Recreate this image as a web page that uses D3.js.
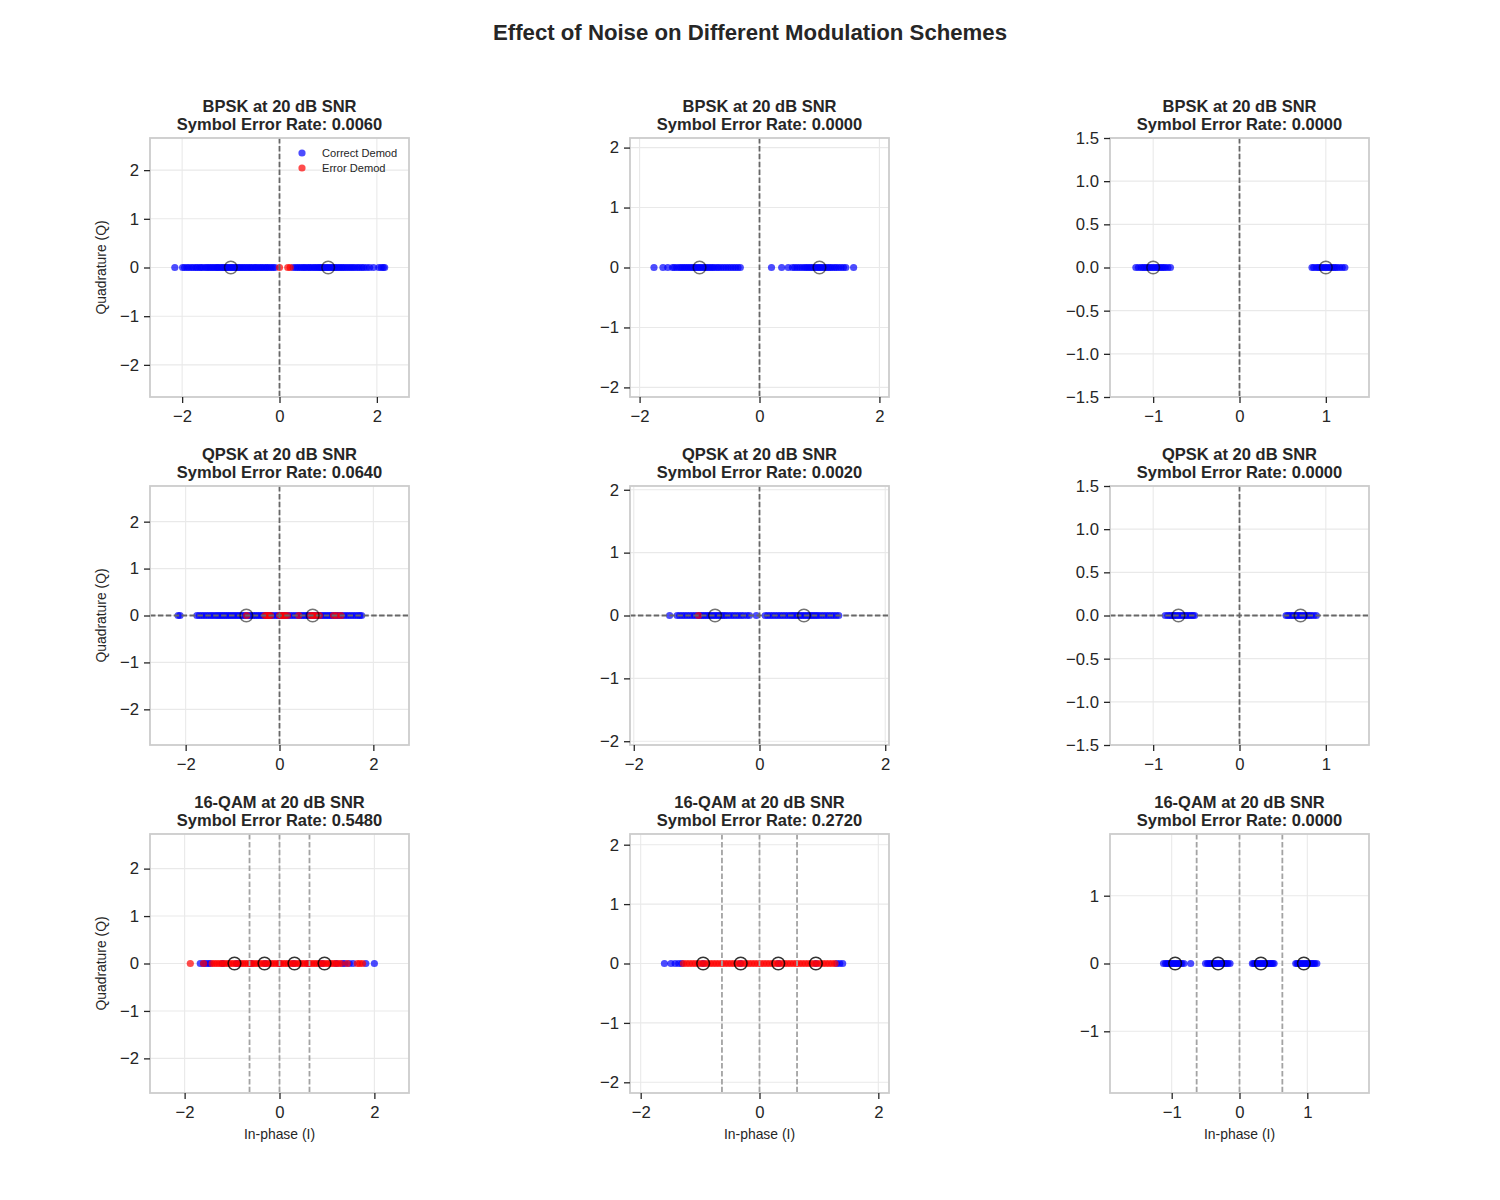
<!DOCTYPE html>
<html>
<head>
<meta charset="utf-8">
<script src="https://cdn.jsdelivr.net/npm/d3@7"></script>
<style>
  body { margin: 0; background: #fff; }
  svg { font-family: "Liberation Sans", Arial, sans-serif; }
</style>
</head>
<body>
<div id="chart"></div>
<script>
// ---- data ----
const schemes = ["BPSK", "QPSK", "16-QAM"];
const snrDb = 20;
const errorRates = [
    [0.0060, 0.0000, 0.0000],
    [0.0640, 0.0020, 0.0000],
    [0.5480, 0.2720, 0.0000]
];
// half width of each (square) axes, in I/Q units
const axisLimits = [
    [2.66, 2.16, 1.5],
    [2.76, 2.06, 1.5],
    [2.73, 2.18, 1.91]
];
const xTicksWide = [-2, 0, 2];
const yTicksWide = [-2, -1, 0, 1, 2];
const xTicksTight = [-1, 0, 1];
const yTicksTight = [-1.5, -1, -0.5, 0, 0.5, 1, 1.5];
const yTicksQam = [-1, 0, 1];

// ideal constellation (I values, Q = 0)
const bpskIdeal = [-1, 1];
const qpskIdeal = [-0.707, 0.707];
const qamIdeal = [-0.949, -0.316, 0.316, 0.949];

// decision boundaries
const bpskBounds = [0];
const qpskBounds = [0];
const qamBounds = [-0.632, 0, 0.632];

// received symbols, I values (all lie on Q = 0)
const bpskACorrect = [-2.15, -1.99, -1.95, -1.9, -1.86, -1.81, -1.77, -1.72, -1.69, -1.64, -1.61, -1.57, -1.52, -1.49,
    -1.45, -1.42, -1.38, -1.35, -1.31, -1.28, -1.26, -1.22, -1.19, -1.16, -1.13, -1.1, -1.08, -1.05, -1.02, -0.99,
    -0.97, -0.94, -0.91, -0.88, -0.85, -0.82, -0.79, -0.75, -0.72, -0.68, -0.65, -0.61, -0.58, -0.54, -0.5, -0.47,
    -0.43, -0.39, -0.36, -0.32, -0.28, -0.25, -0.21, -0.17, -0.13, -0.09,
    0.28, 0.33, 0.37, 0.41, 0.45, 0.49, 0.52, 0.56, 0.6, 0.63, 0.67, 0.71, 0.74, 0.78, 0.81, 0.84, 0.87, 0.9, 0.93,
    0.96, 0.99, 1.02, 1.05, 1.08, 1.11, 1.14, 1.17, 1.21, 1.24, 1.28, 1.31, 1.35, 1.39, 1.43, 1.47, 1.51, 1.55, 1.6,
    1.64, 1.69, 1.73, 1.79, 1.85, 1.93, 2.04, 2.09, 2.13, 2.16];
const bpskAError = [0.0, 0.17, 0.22];

const bpskBCorrect = [-1.76, -1.61, -1.53, -1.45, -1.42, -1.38, -1.34, -1.31, -1.28, -1.25, -1.22, -1.19, -1.16, -1.13,
    -1.1, -1.08, -1.05, -1.03, -1.0, -0.98, -0.95, -0.92, -0.9, -0.87, -0.84, -0.81, -0.78, -0.75, -0.71, -0.68,
    -0.64, -0.6, -0.56, -0.52, -0.48, -0.44, -0.4, -0.36, -0.32,
    0.2, 0.37, 0.48, 0.55, 0.59, 0.63, 0.67, 0.71, 0.75, 0.78, 0.81, 0.84, 0.87, 0.9, 0.93, 0.96, 0.98, 1.01, 1.03,
    1.06, 1.09, 1.12, 1.15, 1.18, 1.21, 1.25, 1.28, 1.32, 1.36, 1.4, 1.44, 1.57];
const bpskBError = [];

const bpskCCorrect = [-1.2, -1.17, -1.14, -1.12, -1.1, -1.08, -1.06, -1.04, -1.02, -1.0, -0.98, -0.96, -0.94, -0.92,
    -0.9, -0.88, -0.86, -0.83, -0.8,
    0.84, 0.86, 0.89, 0.91, 0.93, 0.95, 0.97, 0.99, 1.01, 1.03, 1.05, 1.07, 1.09, 1.11, 1.13, 1.16, 1.19, 1.22];
const bpskCError = [];

const qpskACorrect = [-2.16, -2.12, -1.76, -1.71, -1.66, -1.61, -1.56, -1.51, -1.46, -1.42, -1.37, -1.33, -1.29, -1.25,
    -1.21, -1.17, -1.13, -1.09, -1.05, -1.01, -0.97, -0.93, -0.89, -0.85, -0.81, -0.77, -0.73, -0.69, -0.65, -0.61,
    -0.57, -0.53, -0.49, -0.45, -0.41, -0.37, -0.33, -0.29, -0.25, -0.2, -0.16, -0.11, -0.06, -0.02, 0.03, 0.08,
    0.13, 0.18, 0.23, 0.28, 0.33, 0.38, 0.43, 0.47, 0.51, 0.55, 0.59, 0.63, 0.67, 0.71, 0.75, 0.79, 0.83, 0.87,
    0.91, 0.95, 0.99, 1.03, 1.07, 1.11, 1.15, 1.19, 1.23, 1.27, 1.32, 1.37, 1.42, 1.47, 1.52, 1.57, 1.62, 1.67,
    1.71, 1.75];
const qpskAError = [-0.7, -0.31, -0.27, -0.23, -0.19, 0.0, 0.04, 0.08, 0.12, 0.17, 0.41, 0.66, 0.7, 0.74, 0.8,
    0.85, 1.15, 1.22, 1.31];

const qpskBCorrect = [-1.43, -1.31, -1.27, -1.23, -1.19, -1.15, -1.11, -1.07, -1.03, -0.99, -0.95, -0.92, -0.89, -0.86,
    -0.83, -0.8, -0.77, -0.74, -0.71, -0.68, -0.65, -0.62, -0.59, -0.56, -0.53, -0.49, -0.45, -0.41, -0.37, -0.33,
    -0.29, -0.25, -0.2, -0.16, -0.05,
    0.09, 0.13, 0.17, 0.21, 0.25, 0.29, 0.33, 0.37, 0.41, 0.45, 0.49, 0.52, 0.55, 0.58, 0.61, 0.64, 0.67, 0.7,
    0.73, 0.76, 0.79, 0.82, 0.85, 0.88, 0.91, 0.94, 0.98, 1.02, 1.06, 1.1, 1.14, 1.18, 1.22, 1.26];
const qpskBError = [-0.97];

const qpskCCorrect = [-0.86, -0.83, -0.81, -0.79, -0.77, -0.76, -0.74, -0.72, -0.7, -0.68, -0.66, -0.64, -0.62, -0.6,
    -0.58, -0.56, -0.54, -0.52,
    0.54, 0.56, 0.58, 0.6, 0.62, 0.64, 0.66, 0.68, 0.69, 0.71, 0.73, 0.75, 0.77, 0.79, 0.81, 0.83, 0.86, 0.89];
const qpskCError = [];

const qamACorrect = [-1.67, -1.6, -1.55, -1.5, -1.46, -1.2, -0.9, -0.6, -0.3, 0.0, 0.3, 0.6, 0.9, 1.2, 1.33, 1.38,
    1.47, 1.55, 1.82, 2.0];
const qamAError = [-1.88, -1.6, -1.42, -1.37, -1.32, -1.27, -1.22, -1.17, -1.12, -1.07, -1.02, -0.97, -0.92, -0.87,
    -0.82, -0.77, -0.72, -0.67, -0.62, -0.57, -0.52, -0.47, -0.42, -0.37, -0.32, -0.27, -0.22, -0.17, -0.12, -0.07,
    -0.02, 0.03, 0.08, 0.13, 0.18, 0.23, 0.28, 0.33, 0.38, 0.43, 0.48, 0.53, 0.58, 0.63, 0.68, 0.73, 0.78, 0.83,
    0.88, 0.93, 0.98, 1.03, 1.08, 1.13, 1.18, 1.24, 1.29, 1.43, 1.64, 1.69, 1.75];

const qamBCorrect = [-1.6, -1.49, -1.42, -1.36, -1.31, -0.95, -0.32, 0.32, 0.95, 1.3, 1.35, 1.4];
const qamBError = [-1.28, -1.23, -1.18, -1.13, -1.08, -1.03, -0.98, -0.93, -0.88, -0.83, -0.78, -0.73, -0.68, -0.63,
    -0.58, -0.53, -0.48, -0.43, -0.38, -0.33, -0.28, -0.23, -0.18, -0.13, -0.08, -0.03, 0.02, 0.07, 0.12, 0.17,
    0.22, 0.27, 0.32, 0.37, 0.42, 0.47, 0.52, 0.57, 0.62, 0.67, 0.72, 0.77, 0.82, 0.87, 0.92, 0.97, 1.02, 1.07,
    1.12, 1.17, 1.22, 1.27];

const qamCCorrect = [-1.12, -1.09, -1.07, -1.05, -1.03, -1.01, -0.99, -0.97, -0.95, -0.93, -0.91, -0.89, -0.87, -0.85,
    -0.82, -0.72,
    -0.5, -0.47, -0.45, -0.43, -0.41, -0.39, -0.37, -0.35, -0.33, -0.31, -0.29, -0.27, -0.25, -0.23, -0.21, -0.19,
    -0.17, -0.14,
    0.19, 0.21, 0.23, 0.25, 0.27, 0.29, 0.31, 0.33, 0.35, 0.37, 0.39, 0.41, 0.43, 0.45, 0.47, 0.49, 0.51,
    0.83, 0.85, 0.87, 0.89, 0.91, 0.93, 0.95, 0.97, 0.99, 1.01, 1.03, 1.05, 1.07, 1.09, 1.11, 1.14];
const qamCError = [];

// ---- panel table ----
const panels = [
    {scheme: 0, col: 0, correct: bpskACorrect, error: bpskAError, ideal: bpskIdeal, vb: bpskBounds, hb: []},
    {scheme: 0, col: 1, correct: bpskBCorrect, error: bpskBError, ideal: bpskIdeal, vb: bpskBounds, hb: []},
    {scheme: 0, col: 2, correct: bpskCCorrect, error: bpskCError, ideal: bpskIdeal, vb: bpskBounds, hb: []},
    {scheme: 1, col: 0, correct: qpskACorrect, error: qpskAError, ideal: qpskIdeal, vb: qpskBounds, hb: qpskBounds},
    {scheme: 1, col: 1, correct: qpskBCorrect, error: qpskBError, ideal: qpskIdeal, vb: qpskBounds, hb: qpskBounds},
    {scheme: 1, col: 2, correct: qpskCCorrect, error: qpskCError, ideal: qpskIdeal, vb: qpskBounds, hb: qpskBounds},
    {scheme: 2, col: 0, correct: qamACorrect, error: qamAError, ideal: qamIdeal, vb: qamBounds, hb: []},
    {scheme: 2, col: 1, correct: qamBCorrect, error: qamBError, ideal: qamIdeal, vb: qamBounds, hb: []},
    {scheme: 2, col: 2, correct: qamCCorrect, error: qamCError, ideal: qamIdeal, vb: qamBounds, hb: []}
];

const width = 1500;
const height = 1200;
const size = 259;
const colX = [150, 630, 1110];
const rowY = [138, 486, 834];
const textColor = "#262626";
const dotR = 3.6;

const chart = () => {
    const svg = d3.create("svg")
        .attr("width", width)
        .attr("height", height)
        .attr("viewBox", [0, 0, width, height])
    ;

    svg.append("rect")
        .attr("width", width)
        .attr("height", height)
        .attr("fill", "#fff")
    ;

    svg.append("text")
        .attr("x", width / 2)
        .attr("y", 40)
        .attr("text-anchor", "middle")
        .attr("font-size", 22.2)
        .attr("font-weight", "bold")
        .attr("fill", textColor)
        .text("Effect of Noise on Different Modulation Schemes")
    ;

    panels.forEach(p => {
        const row = p.scheme;
        const lim = axisLimits[row][p.col];
        const tight = p.col === 2;
        const xTicks = tight ? xTicksTight : xTicksWide;
        const yTicks = tight ? (row === 2 ? yTicksQam : yTicksTight) : yTicksWide;

        const x = d3.scaleLinear().domain([-lim, lim]).range([0, size]);
        const y = d3.scaleLinear().domain([-lim, lim]).range([size, 0]);

        const g = svg.append("g")
            .attr("transform", `translate(${colX[p.col]},${rowY[row]})`)
        ;

        // grid
        g.append("g").selectAll("line")
            .data(xTicks)
            .join("line")
                .attr("x1", d => x(d)).attr("x2", d => x(d))
                .attr("y1", 0).attr("y2", size)
                .attr("stroke", "#e9e9e9")
                .attr("stroke-width", 1.1)
        ;
        g.append("g").selectAll("line")
            .data(yTicks)
            .join("line")
                .attr("y1", d => y(d)).attr("y2", d => y(d))
                .attr("x1", 0).attr("x2", size)
                .attr("stroke", "#e9e9e9")
                .attr("stroke-width", 1.1)
        ;

        // received symbols: correct first, errors on top
        g.append("g").selectAll("circle")
            .data(p.correct.map(v => ({i: v, q: 0})))
            .join("circle")
                .attr("cx", d => x(d.i))
                .attr("cy", d => y(d.q))
                .attr("r", dotR)
                .attr("fill", "blue")
                .attr("fill-opacity", 0.7)
        ;
        g.append("g").selectAll("circle")
            .data(p.error.map(v => ({i: v, q: 0})))
            .join("circle")
                .attr("cx", d => x(d.i))
                .attr("cy", d => y(d.q))
                .attr("r", dotR)
                .attr("fill", "red")
                .attr("fill-opacity", 0.7)
        ;

        // decision boundaries
        const boundColor = row === 2 ? "#a3a3a3" : "#676767";
        g.append("g").selectAll("line")
            .data(p.vb)
            .join("line")
                .attr("x1", d => x(d)).attr("x2", d => x(d))
                .attr("y1", 0).attr("y2", size)
                .attr("stroke", boundColor)
                .attr("stroke-width", 1.8)
                .attr("stroke-dasharray", "5.5,2.4")
        ;
        g.append("g").selectAll("line")
            .data(p.hb)
            .join("line")
                .attr("y1", d => y(d)).attr("y2", d => y(d))
                .attr("x1", 0).attr("x2", size)
                .attr("stroke", boundColor)
                .attr("stroke-width", 1.8)
                .attr("stroke-dasharray", "5.5,2.4")
        ;

        // ideal constellation points
        g.append("g").selectAll("circle")
            .data(p.ideal.map(v => ({i: v, q: 0})))
            .join("circle")
                .attr("cx", d => x(d.i))
                .attr("cy", d => y(d.q))
                .attr("r", 6.3)
                .attr("fill", "none")
                .attr("stroke", "#000")
                .attr("stroke-opacity", row === 2 ? 0.8 : 0.55)
                .attr("stroke-width", 1.6)
        ;

        // frame
        g.append("rect")
            .attr("width", size)
            .attr("height", size)
            .attr("fill", "none")
            .attr("stroke", "#cccccc")
            .attr("stroke-width", 1.8)
        ;

        // axes
        const yFmt = (tight && row !== 2) ? d3.format(".1f") : d3.format("d");
        const xAxis = g.append("g")
            .attr("transform", `translate(0,${size})`)
            .call(d3.axisBottom(x).tickValues(xTicks).tickSize(6).tickPadding(7).tickFormat(d3.format("d")))
        ;
        const yAxis = g.append("g")
            .call(d3.axisLeft(y).tickValues(yTicks).tickSize(6).tickPadding(5).tickFormat(yFmt))
        ;
        [xAxis, yAxis].forEach(a => {
            a.select(".domain").remove();
            a.selectAll(".tick line").attr("stroke", textColor).attr("stroke-width", 1.3);
            a.selectAll(".tick text")
                .attr("font-size", 16.7)
                .attr("font-family", "Liberation Sans, Arial, sans-serif")
                .attr("fill", textColor);
        });

        // titles
        g.append("text")
            .attr("x", size / 2)
            .attr("y", -26)
            .attr("text-anchor", "middle")
            .attr("font-size", 16.5)
            .attr("font-weight", "bold")
            .attr("fill", textColor)
            .text(`${schemes[row]} at ${snrDb} dB SNR`)
        ;
        g.append("text")
            .attr("x", size / 2)
            .attr("y", -8.5)
            .attr("text-anchor", "middle")
            .attr("font-size", 16.5)
            .attr("font-weight", "bold")
            .attr("fill", textColor)
            .text(`Symbol Error Rate: ${errorRates[row][p.col].toFixed(4)}`)
        ;

        if (p.col === 0) {
            g.append("text")
                .attr("transform", `translate(-49,${size / 2}) rotate(-90)`)
                .attr("text-anchor", "middle")
                .attr("dy", "0.35em")
                .attr("font-size", 13.9)
                .attr("fill", textColor)
                .text("Quadrature (Q)")
            ;
        }
        if (row === 2) {
            g.append("text")
                .attr("x", size / 2)
                .attr("y", size + 41)
                .attr("dy", "0.35em")
                .attr("text-anchor", "middle")
                .attr("font-size", 13.9)
                .attr("fill", textColor)
                .text("In-phase (I)")
            ;
        }

        // legend only in first panel
        if (row === 0 && p.col === 0) {
            const items = [["Correct Demod", "blue"], ["Error Demod", "red"]];
            const lg = g.append("g").attr("transform", "translate(152,15)");
            items.forEach(([label, color], k) => {
                lg.append("circle")
                    .attr("cx", 0).attr("cy", k * 15)
                    .attr("r", dotR)
                    .attr("fill", color)
                    .attr("fill-opacity", 0.7)
                ;
                lg.append("text")
                    .attr("x", 20).attr("y", k * 15)
                    .attr("dy", "0.35em")
                    .attr("font-size", 11.1)
                    .attr("fill", textColor)
                    .text(label)
                ;
            });
        }
    });

    return svg.node();
};

document.getElementById("chart").append(chart());
</script>
</body>
</html>
